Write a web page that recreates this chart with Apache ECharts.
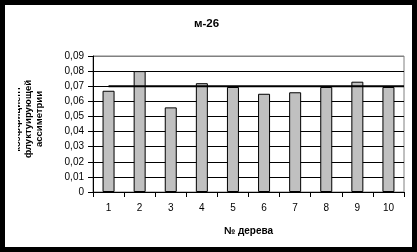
<!DOCTYPE html>
<html>
<head>
<meta charset="utf-8">
<script src="https://cdn.jsdelivr.net/npm/echarts@6/dist/echarts.min.js"></script>
<style>
html,body{margin:0;padding:0;background:#fff;}
#c{width:417px;height:252px;}
</style>
</head>
<body>
<div id="c"></div>
<script>
const chartTitle = 'м-26';
const categories = ['1','2','3','4','5','6','7','8','9','10'];
const values = [0.067, 0.080, 0.056, 0.072, 0.0695, 0.065, 0.066, 0.0695, 0.073, 0.0695];
const refValue = 0.07;
const refStart = 0.5;
const refEnd = 10;
const yTicks = [0, 0.01, 0.02, 0.03, 0.04, 0.05, 0.06, 0.07, 0.08, 0.09];
const xName = '№ дерева';
const yName = 'коэффициент\nфлуктуирующей\nассиметрии';

const chart = echarts.init(document.getElementById('c'), null, {renderer: 'canvas'});
const font = 'Liberation Sans, Arial, sans-serif';
const splitColors = yTicks.map((t, i) => i === yTicks.length - 1 ? '#808080' : '#000');

chart.setOption({
  animation: false,
  backgroundColor: '#fff',
  title: {
    text: chartTitle,
    left: 194,
    top: 18,
    padding: 0,
    textStyle: {fontFamily: font, fontSize: 11.5, fontWeight: 'bold', color: '#000'}
  },
  grid: {left: 93, right: 13, top: 56, bottom: 60, show: true, borderColor: '#808080', borderWidth: 1, backgroundColor: 'transparent'},
  xAxis: [{
    type: 'category',
    data: categories,
    boundaryGap: true,
    axisLine: {show: true, lineStyle: {color: '#000', width: 1}},
    axisTick: {show: true, inside: false, length: 5, lineStyle: {color: '#000'}},
    axisLabel: {fontFamily: font, fontSize: 10, color: '#000', margin: 11},
    name: xName,
    nameLocation: 'middle',
    nameGap: 34,
    nameTextStyle: {fontFamily: font, fontSize: 10, fontWeight: 'bold', color: '#000'},
    splitLine: {show: false}
  }, {
    type: 'value',
    min: 0,
    max: 10,
    show: false,
    position: 'bottom'
  }],
  yAxis: {
    type: 'value',
    min: 0,
    max: 0.09,
    interval: 0.01,
    axisLine: {show: true, lineStyle: {color: '#000', width: 1}},
    axisTick: {show: true, inside: false, length: 5, lineStyle: {color: '#000'}},
    axisLabel: {fontFamily: font, fontSize: 10, color: '#000', margin: 9,
      formatter: v => (Math.round(v * 100) / 100).toString().replace('.', ',')},
    splitLine: {show: true, lineStyle: {color: splitColors, width: 1}},
    name: yName,
    nameLocation: 'middle',
    nameRotate: 90,
    nameGap: 48,
    nameTextStyle: {fontFamily: font, fontSize: 9.5, fontWeight: 'bold', color: '#000', lineHeight: 11, align: 'center', padding: [0, 0, 0, 10]}
  },
  series: [{
    type: 'bar',
    data: values,
    barWidth: 12,
    itemStyle: {color: '#c0c0c0', borderColor: '#000', borderWidth: 1},
    z: 2
  }, {
    type: 'line',
    xAxisIndex: 1,
    data: [[refStart, refValue], [refEnd, refValue]],
    symbol: 'none',
    lineStyle: {color: '#000', width: 2},
    z: 3
  }],
  graphic: [{
    type: 'rect',
    shape: {x: 0, y: 40, width: 18, height: 160},
    style: {fill: '#fff'},
    z: 90
  }, {
    type: 'rect',
    shape: {x: 0, y: 0, width: 417, height: 252},
    style: {fill: 'none', stroke: '#000', lineWidth: 10},
    z: 100
  }]
});
</script>
</body>
</html>
